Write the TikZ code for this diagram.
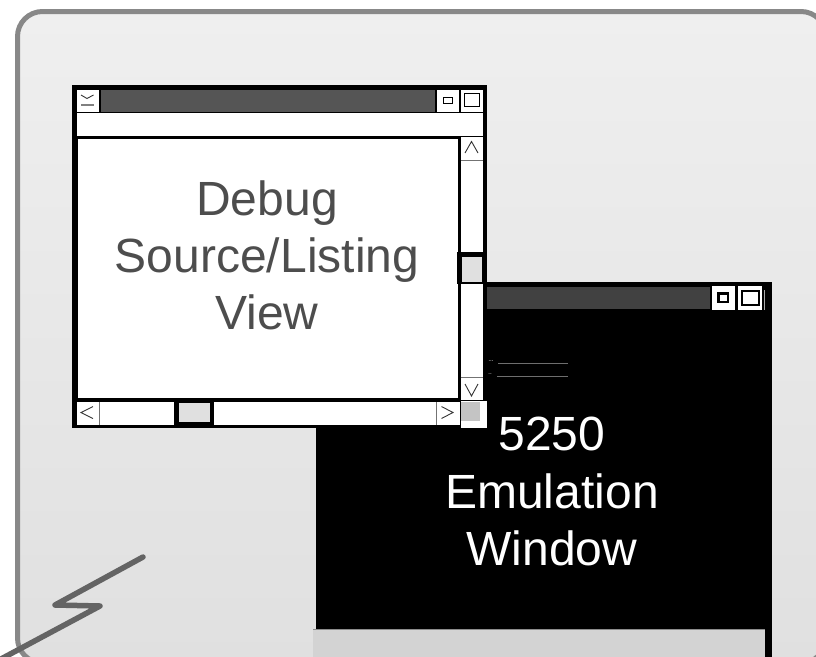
\documentclass[tikz,border=0pt]{standalone}
\usepackage{fontspec}
\setmainfont{Liberation Sans}
\definecolor{bgtop}{HTML}{EFEFEF}
\definecolor{bgbot}{HTML}{E0E0E0}
\definecolor{framegray}{HTML}{888888}
\definecolor{dbgtitle}{HTML}{555555}
\definecolor{emutitle}{HTML}{414141}
\definecolor{thumbgray}{HTML}{E0E0E0}
\definecolor{cornergray}{HTML}{C4C4C4}
\definecolor{bargray}{HTML}{D3D3D3}
\definecolor{boltgray}{HTML}{646464}
\definecolor{dbgtext}{HTML}{4D4D4D}
\definecolor{linegray}{HTML}{6E6E6E}
\begin{document}
\begin{tikzpicture}[x=1pt,y=-1pt,
  framestyle/.style={draw=framegray, line width=5pt, rounded corners=25pt},
  glyph/.style={draw=black!80, line width=0.9pt, line join=miter},
  sepline/.style={draw=black!55, line width=0.8pt},
  btnicon/.style={draw=black, line width=0.9pt},
  bigtext/.style={font=\fontsize{48}{57}\selectfont, anchor=base, inner sep=0pt},
  boltstyle/.style={draw=boltgray, line width=5.5pt, line cap=round, line join=round},
  tinytext/.style={font=\fontsize{6}{6}\selectfont\bfseries, text=black!45, inner sep=0pt}]
\useasboundingbox (0,0) rectangle (816,656);
\clip (0,0) rectangle (816,656);
\fill[white] (0,0) rectangle (816,656);
% outer panel
\shade[top color=bgtop, bottom color=bgbot, rounded corners=25pt] (17.5,11.5) rectangle (826,663);
\draw[framestyle] (17.5,11.5) rectangle (826,663);
% lightning bolt
\draw[boltstyle] (143,557) -- (55,605) -- (100,606) -- (-14,667);
% ---------- 5250 emulation window (behind) ----------
\fill[black] (316,282) rectangle (772,662);
\fill[emutitle] (321,287) rectangle (710,309);
\fill[white] (712,286) rectangle (735,310);
\draw[black, line width=2.2pt] (718.5,293.5) rectangle (728,302);
\fill[white] (738,286) rectangle (761.5,310);
\draw[black, line width=2.5pt] (742,291) rectangle (759,305);
\draw[black!35, line width=0.8pt] (764.5,290) -- (764.5,310);
\fill[bargray] (313,629) rectangle (765,662);
\draw[black!45, line width=0.8pt] (313,629) -- (765,629);
\draw[linegray, line width=1pt] (498,363) -- (568,363);
\draw[linegray, line width=1pt] (497,376) -- (568,376);
\node[tinytext] (dots1) at (491,361) {...};
\node[tinytext] (dots2) at (490,374) {..};
% ---------- debug window (front) ----------
\fill[black] (72,85) rectangle (487,428);
% title bar
\fill[white] (77,90) rectangle (98.5,111.5);
\draw[glyph] (81,95) -- (87,98.5) -- (93.5,95);
\draw[draw=black!50, line width=1.6pt] (81,105) -- (94,105);
\fill[dbgtitle] (100.5,90) rectangle (435,111.5);
\fill[white] (437,90) rectangle (459,111.5);
\draw[btnicon] (443.5,97.5) rectangle (452,103);
\fill[white] (461,90) rectangle (482.5,111.5);
\draw[btnicon] (464.5,93.5) rectangle (479,106);
% menu bar
\fill[white] (76.5,113) rectangle (482.5,136);
% content
\fill[white] (78,139) rectangle (457.5,398);
% vertical scrollbar
\fill[white] (460.5,137) rectangle (483,400);
\draw[sepline] (460.5,160) -- (483,160);
\draw[glyph] (465,153) -- (471.5,141.5) -- (478,153);
\draw[sepline] (460.5,377) -- (483,377);
\draw[glyph] (465,384) -- (471.5,396) -- (478,384);
\fill[black] (457,252) rectangle (487,284);
\fill[thumbgray] (461.5,256.5) rectangle (481.5,281.5);
% horizontal scrollbar
\fill[white] (76.5,402) rectangle (459.5,425);
\draw[sepline] (99.5,402) -- (99.5,425);
\draw[glyph] (93,406.5) -- (81,412.5) -- (93,418.5);
\draw[sepline] (436,402) -- (436,425);
\draw[glyph] (441.5,406.5) -- (453,412.5) -- (441.5,418.5);
\fill[black] (174,398) rectangle (214,428);
\fill[thumbgray] (179,403) rectangle (209.5,421.5);
% corner
\fill[white] (461,400.5) rectangle (487,428);
\fill[cornergray] (461,401.5) rectangle (479.5,420.5);
% ---------- texts ----------
\node[bigtext, text=dbgtext] (dbg1) at (267,215) {Debug};
\node[bigtext, text=dbgtext] (dbg2) at (267,272) {Source/Listing};
\node[bigtext, text=dbgtext] (dbg3) at (267,329) {View};
\node[bigtext, text=white] (emu1) at (552,450) {5250};
\node[bigtext, text=white] (emu2) at (552,508) {Emulation};
\node[bigtext, text=white] (emu3) at (552,565) {Window};
\end{tikzpicture}
\end{document}
